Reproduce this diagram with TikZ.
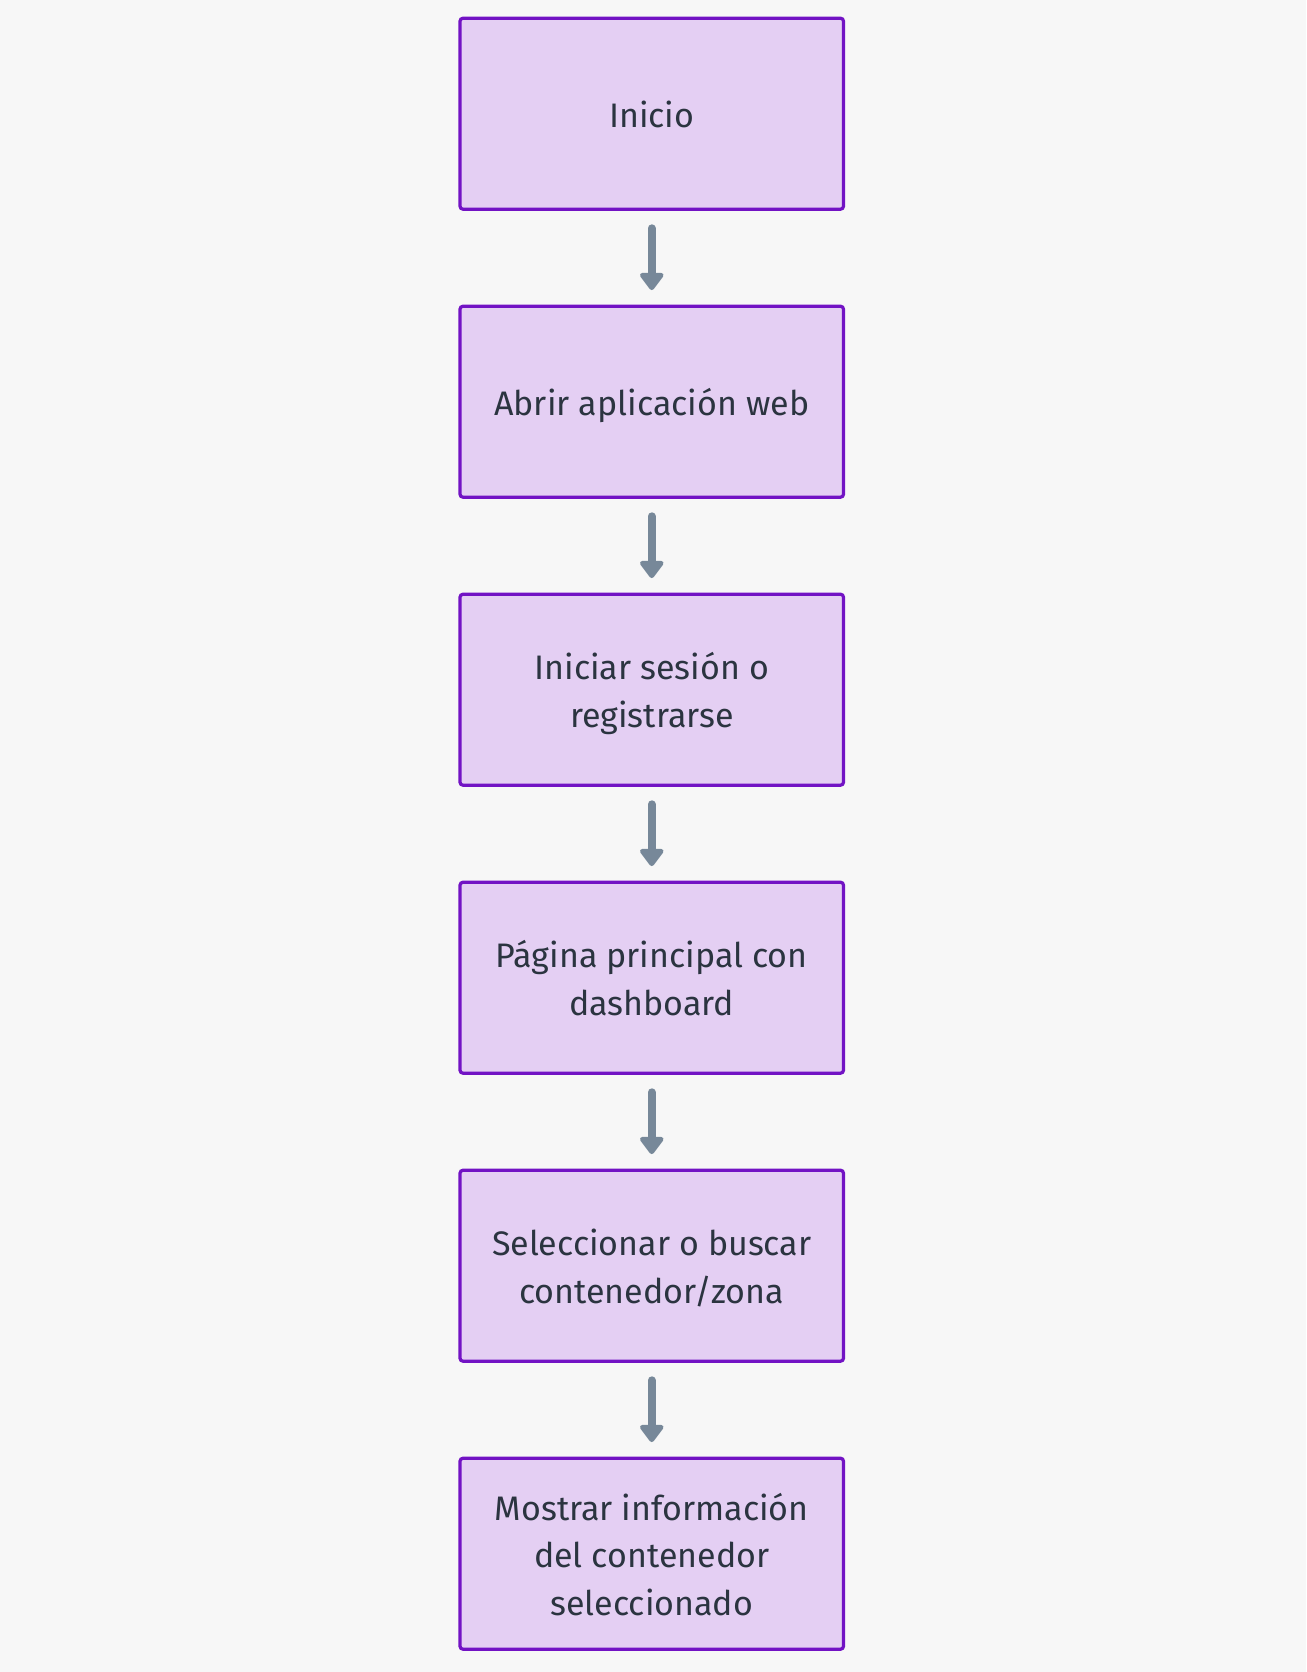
\documentclass[tikz,border=0pt]{standalone}
\usepackage{fontspec}
\setmainfont{Fira Sans}
\usetikzlibrary{arrows.meta}
\definecolor{bg}{HTML}{F7F7F7}
\definecolor{boxfill}{HTML}{E4CFF3}
\definecolor{boxline}{HTML}{7213C4}
\definecolor{arrowc}{HTML}{778899}
\definecolor{txt}{HTML}{2B3440}
\newcommand{\lnstrut}{\rule[-9.5pt]{0pt}{47.2pt}}
\tikzset{
  stepbox/.style={draw=boxline, fill=boxfill, line width=3.2pt, rounded corners=3pt,
    minimum width=383.5pt, minimum height=191pt, inner sep=0pt, align=center,
    text=txt, font=\fontsize{34pt}{47.7pt}\selectfont},
  flowarrow/.style={draw=arrowc, line width=8pt, line cap=round,
    -{Triangle[width=27pt,length=19pt,round]}, shorten <=17.5pt, shorten >=14.5pt}
}
\begin{document}
\begin{tikzpicture}[x=1pt,y=-1pt]
\fill[bg] (0,0) rectangle (1306,1672);
\useasboundingbox (0,0) rectangle (1306,1672);
\node[stepbox] (n1) at (651.75,113.7) {\lnstrut Inicio};
\node[stepbox] (n2) at (651.75,401.7) {\lnstrut Abrir aplicación web};
\node[stepbox] (n3) at (651.75,689.7) {\lnstrut Iniciar sesión o\\\lnstrut registrarse};
\node[stepbox] (n4) at (651.75,977.7) {\lnstrut Página principal con\\\lnstrut dashboard};
\node[stepbox] (n5) at (651.75,1265.7) {\lnstrut Seleccionar o buscar\\\lnstrut contenedor/zona};
\node[stepbox] (n6) at (651.75,1553.7) {\lnstrut Mostrar información\\\lnstrut del contenedor\\\lnstrut seleccionado};
\draw[flowarrow] (n1) -- (n2);
\draw[flowarrow] (n2) -- (n3);
\draw[flowarrow] (n3) -- (n4);
\draw[flowarrow] (n4) -- (n5);
\draw[flowarrow] (n5) -- (n6);
\end{tikzpicture}
\end{document}
